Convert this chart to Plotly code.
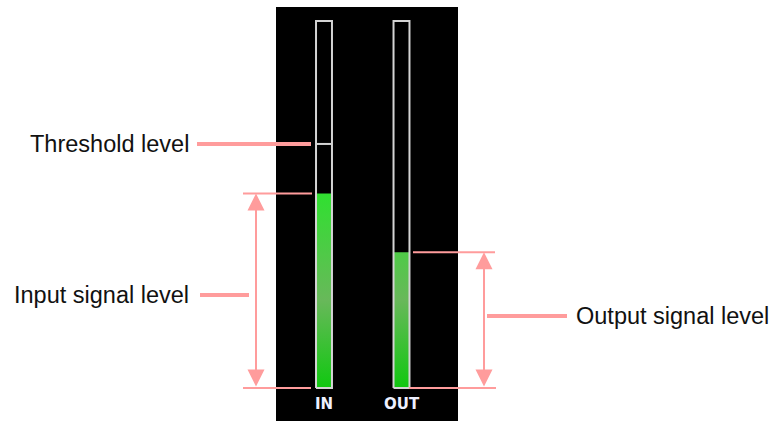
"""
Compressor meter diagram: input / output level meters with threshold
"""

import plotly.graph_objects as go

# Meter data, levels in percent of full scale
meters = ['IN', 'OUT']
signal_level = [53.0, 37.0]
full_scale = 100.0
threshold_level = 66.5
label_text = ['Threshold level', 'Input signal level', 'Output signal level']

# Pixel geometry of the diagram (layout only)
W, H = 776, 421
X_ORIGIN, X_SCALE = 324.0, 77.5   # px of meter 0, px per meter step
Y_ORIGIN, Y_SCALE = 388.0, 3.67   # px of level 0, px per level unit

PINK = '#ff9c9c'
FRAME = '#d4d4d4'
GREEN = [[0.0, '#10c810'], [0.45, '#68b85a'], [1.0, '#30e030']]


def dx(px):
    return (px - X_ORIGIN) / X_SCALE


def dy(py):
    return (Y_ORIGIN - py) / Y_SCALE


fig = go.Figure()

# green level fill, same absolute gradient for both meters
fill_hw = 0.1
for i, lvl in enumerate(signal_level):
    fig.add_trace(go.Scatter(
        x=[i - fill_hw, i + fill_hw, i + fill_hw, i - fill_hw, i - fill_hw],
        y=[0, 0, lvl, lvl, 0],
        mode='lines',
        line=dict(width=0),
        fill='toself',
        fillgradient=dict(type='vertical', colorscale=GREEN,
                          start=0, stop=signal_level[0]),
        hoverinfo='skip'
    ))

# meter frames
frame_hw = 0.103
for i, name in enumerate(meters):
    fig.add_trace(go.Scatter(
        x=[i - frame_hw, i + frame_hw, i + frame_hw, i - frame_hw, i - frame_hw],
        y=[0, 0, full_scale, full_scale, 0],
        mode='lines',
        line=dict(color=FRAME, width=2),
        hoverinfo='skip'
    ))

# threshold mark inside the IN meter
fig.add_trace(go.Scatter(
    x=[-frame_hw, frame_hw],
    y=[threshold_level, threshold_level],
    mode='lines',
    line=dict(color=FRAME, width=2),
    hoverinfo='skip'
))

shapes = [
    # black panel behind the meters
    dict(type='rect', x0=dx(276), x1=dx(458), y0=dy(421), y1=dy(7),
         fillcolor='black', line=dict(width=0), layer='below'),
    # threshold leader
    dict(type='line', x0=dx(197), x1=dx(311), y0=threshold_level, y1=threshold_level,
         line=dict(color=PINK, width=4)),
    # input bracket
    dict(type='line', x0=dx(243), x1=dx(312), y0=signal_level[0], y1=signal_level[0],
         line=dict(color=PINK, width=2)),
    dict(type='line', x0=dx(243), x1=dx(311), y0=0, y1=0,
         line=dict(color=PINK, width=2)),
    dict(type='line', x0=dx(200), x1=dx(249), y0=dy(295), y1=dy(295),
         line=dict(color=PINK, width=4)),
    # output bracket
    dict(type='line', x0=dx(413), x1=dx(495), y0=signal_level[1], y1=signal_level[1],
         line=dict(color=PINK, width=2)),
    dict(type='line', x0=dx(409), x1=dx(496), y0=0, y1=0,
         line=dict(color=PINK, width=2)),
    dict(type='line', x0=dx(487), x1=dx(567), y0=dy(316), y1=dy(316),
         line=dict(color=PINK, width=4)),
]
for s in shapes:
    s['xref'] = 'x'
    s['yref'] = 'y'

annotations = []
# double arrows spanning each signal level
for ax_px, lvl in [(256, signal_level[0]), (484, signal_level[1])]:
    annotations.append(dict(
        x=dx(ax_px), y=lvl, ax=dx(ax_px), ay=0,
        xref='x', yref='y', axref='x', ayref='y',
        text='', showarrow=True, arrowside='end+start',
        arrowhead=2, startarrowhead=2, arrowsize=1.7, startarrowsize=1.7,
        arrowwidth=2, arrowcolor=PINK, standoff=0, startstandoff=0
    ))

label_font = dict(family='Liberation Sans, Arial, sans-serif', size=23.5, color='#111111')
annotations += [
    dict(x=dx(191), y=threshold_level, text=label_text[0], xanchor='right',
         showarrow=False, font=label_font),
    dict(x=dx(191), y=dy(295), text=label_text[1], xanchor='right',
         showarrow=False, font=label_font),
    dict(x=dx(574), y=dy(316), text=label_text[2], xanchor='left',
         showarrow=False, font=label_font),
]

# meter names under the bars
for i, name in enumerate(meters):
    annotations.append(dict(
        x=i, y=dy(403.5), text='<b>%s</b>' % name, showarrow=False,
        font=dict(family='DejaVu Sans, Verdana, sans-serif', size=15, color='#eef0ff')
    ))

fig.update_layout(
    width=W,
    height=H,
    margin=dict(t=0, b=0, l=0, r=0),
    paper_bgcolor='white',
    plot_bgcolor='white',
    showlegend=False,
    xaxis=dict(range=[dx(0), dx(W)], visible=False, fixedrange=True),
    yaxis=dict(range=[dy(H), dy(0)], visible=False, fixedrange=True),
    shapes=shapes,
    annotations=annotations
)

# drop the default page margin so the figure sits at the window origin
fig.write_html("out.html", config={'displayModeBar': False},
               post_script="document.body.style.margin='0';")
